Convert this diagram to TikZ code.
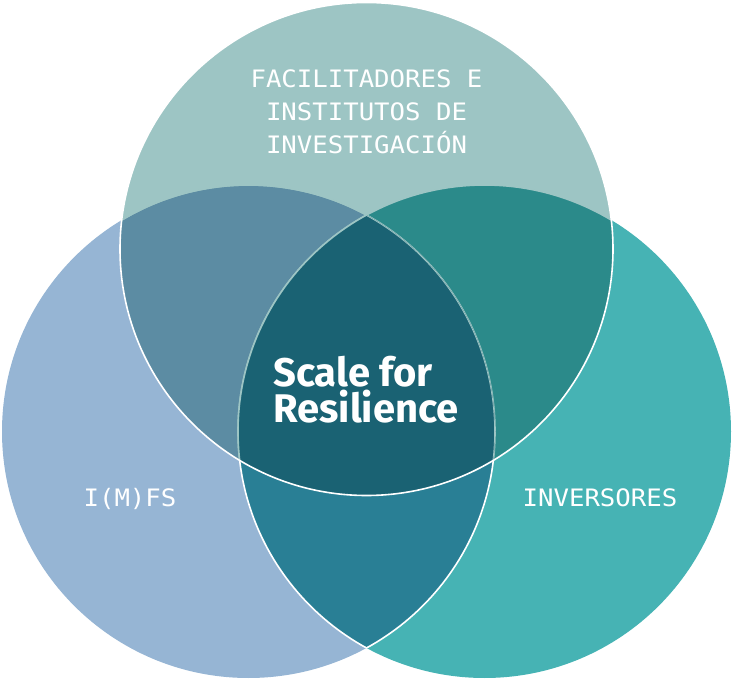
\documentclass[tikz,border=0pt]{standalone}
\usepackage{xcolor}
\usepackage{fontspec}
\usepackage{tikz}
\newfontfamily\monofont{DejaVu Sans Mono}[FakeStretch=1.07]
\newfontfamily\titlefont{Fira Sans}
\definecolor{cimfs}{RGB}{150,181,212}
\definecolor{cinv}{RGB}{70,179,180}
\definecolor{cfac}{RGB}{157,197,196}
\definecolor{cimfsinv}{RGB}{41,127,149}
\definecolor{cfacimfs}{RGB}{92,140,163}
\definecolor{cfacinv}{RGB}{43,138,138}
\definecolor{ccore}{RGB}{26,98,115}

\begin{document}
\begin{tikzpicture}[x=0.75pt, y=-0.75pt,
  monotext/.style={text=white, inner sep=0pt, font=\monofont\fontsize{18}{24.75}\selectfont},
  coretext/.style={text=white, inner sep=0pt, font=\titlefont\bfseries\fontsize{30}{27}\selectfont},
  ring/.style={line width=1.2pt}]
 \useasboundingbox (0,0) rectangle (733,681);
 \def\r{246.5}
 \coordinate (top) at (366.5,249);
 \coordinate (lft) at (248.5,431.5);
 \coordinate (rgt) at (484.5,431.5);
 \fill [cimfs] (lft) circle (\r);
 \fill [cinv] (rgt) circle (\r);
 \begin{scope}
  \clip (lft) circle (\r);
  \fill [cimfsinv] (rgt) circle (\r);
 \end{scope}
 \begin{scope}
  \clip (rgt) circle (\r);
  \draw [ring, white] (lft) circle (\r);
 \end{scope}
 \begin{scope}
  \clip (lft) circle (\r);
  \draw [ring, white] (rgt) circle (\r);
 \end{scope}
 \fill [cfac] (top) circle (\r);
 \begin{scope}
  \clip (top) circle (\r);
  \fill [cfacimfs] (lft) circle (\r);
  \fill [cfacinv] (rgt) circle (\r);
  \draw [ring, cfac] (lft) circle (\r);
  \draw [ring, cfac] (rgt) circle (\r);
  \clip (lft) circle (\r);
  \fill [ccore] (rgt) circle (\r);
  \draw [ring, cfac] (lft) circle (\r);
  \draw [ring, cfac] (rgt) circle (\r);
 \end{scope}
 \draw [ring, white] (top) circle (\r);
 \node [monotext, align=center, anchor=north] (facil) at (366.5,69) {FACILITADORES E\\INSTITUTOS DE\\INVESTIGACIÓN};
 \node [monotext, anchor=base] (imfs) at (130,507) {I(M)FS};
 \node [monotext, anchor=base] (inversores) at (600,507) {INVERSORES};
 \node [coretext, align=left, anchor=north west] (core) at (273,356) {Scale for\\Resilience};
\end{tikzpicture}
\end{document}
